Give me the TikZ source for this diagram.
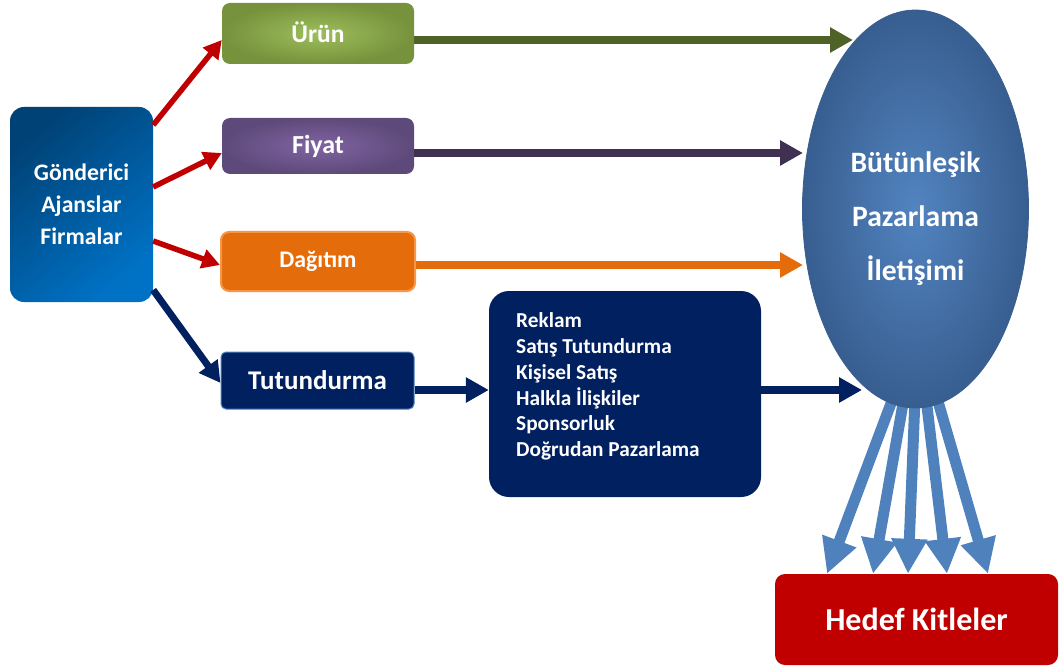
\documentclass[tikz,border=0pt]{standalone}
\usepackage{fontspec}
\setmainfont{Carlito}
\usetikzlibrary{arrows.meta,shapes.geometric}

\definecolor{navy}{HTML}{002060}
\definecolor{redline}{HTML}{C00000}
\definecolor{greenline}{HTML}{4F6228}
\definecolor{purpleline}{HTML}{403152}
\definecolor{orangefill}{HTML}{E46C0A}
\definecolor{orangeedge}{HTML}{F79646}
\definecolor{fanblue}{HTML}{4F81BD}
\definecolor{imcouter}{RGB}{56,94,144}
\definecolor{imcinner}{RGB}{82,132,192}

\tikzset{
  box/.style={rounded corners=8pt, inner sep=0pt, text=white, font=\bfseries},
  redarrow/.style={line width=5.5pt, redline, -{Triangle[length=18pt,width=19pt]}},
  navydiag/.style={line width=7pt, navy, -{Triangle[length=21pt,width=22pt]}},
  flow/.style={line width=8pt, -{Triangle[length=23pt,width=24pt]}},
  fan/.style={line width=11pt, fanblue, -{Triangle[length=35pt,width=34pt]}},
}

\begin{document}
\begin{tikzpicture}[x=1pt,y=-1pt]
\useasboundingbox (0,0) rectangle (1059,668);

% sender block
\node[box, rounded corners=14pt, minimum width=143pt, minimum height=195pt,
      top color={rgb,255:red,0;green,66;blue,118}, bottom color={rgb,255:red,0;green,114;blue,198},
      shading angle=40, align=center, font=\bfseries\fontsize{23.7}{32}\selectfont]
  (gon) at (81.5,204.5) {Gönderici\\Ajanslar\\Firmalar};

% marketing mix
\node[box, minimum width=192pt, minimum height=61pt,
      inner color={rgb,255:red,158;green,190;blue,92}, outer color={rgb,255:red,118;green,146;blue,60},
      font=\bfseries\fontsize{25.5}{28}\selectfont]
  (urun) at (318,33.5) {\raisebox{2pt}{Ürün}};
\node[box, minimum width=192pt, minimum height=56pt,
      inner color={rgb,255:red,128;green,100;blue,162}, outer color={rgb,255:red,94;green,74;blue,122},
      font=\bfseries\fontsize{26}{28}\selectfont]
  (fiyat) at (318,146) {Fiyat};
\node[box, minimum width=194pt, minimum height=59pt, fill=orangefill, draw=orangeedge, line width=2pt,
      font=\bfseries\fontsize{23.8}{26}\selectfont]
  (dag) at (318,261.5) {Dağıtım};
\node[box, rounded corners=5pt, minimum width=193pt, minimum height=57pt, fill=navy,
      draw={rgb,255:red,79;green,129;blue,189}, line width=1pt,
      font=\bfseries\fontsize{27}{28}\selectfont]
  (tut) at (317.5,380.5) {Tutundurma};

% promotion tools
\node[box, rounded corners=20pt, minimum width=272pt, minimum height=206pt, fill=navy]
  (media) at (625,394) {};
\node[text=white, anchor=west, align=left, inner sep=0pt,
      font=\bfseries\fontsize{21.3}{25.8}\selectfont]
  (mediatext) at (516,386.5)
  {Reklam\\Satış Tutundurma\\Kişisel Satış\\Halkla İlişkiler\\Sponsorluk\\Doğrudan Pazarlama};

% target audience
\node[box, rounded corners=10pt, minimum width=283pt, minimum height=91pt, fill=redline,
      font=\bfseries\fontsize{32}{34}\selectfont]
  (hk) at (916.5,619.5) {Hedef Kitleler};

% fan of arrows from IMC to the audience
\coordinate (s1) at (893,398);
\coordinate (s2) at (904,398);
\coordinate (s3) at (915,398);
\coordinate (s4) at (926,398);
\coordinate (s5) at (937,398);
\draw[fan] (s1) -- ([xshift=-89.5pt]hk.north);
\draw[fan] (s2) -- ([xshift=-43.5pt]hk.north);
\draw[fan] (s3) -- ([xshift=-8.5pt]hk.north);
\draw[fan] (s4) -- ([xshift=30.5pt]hk.north);
\draw[fan] (s5) -- ([xshift=71.5pt]hk.north);

% integrated marketing communication
\node[ellipse, inner sep=0pt, minimum width=226pt, minimum height=398pt,
      inner color=imcinner, outer color=imcouter, draw=imcouter, line width=0.8pt]
  (imc) at (915.5,209) {};
\node[text=white, align=center, inner sep=0pt, font=\bfseries\fontsize{29.6}{54}\selectfont]
  (imctext) at (915.5,219) {Bütünleşik\\Pazarlama\\İletişimi};

% arrow ends on the ellipse
\coordinate (eU) at (853,40);
\coordinate (eF) at (803,153);
\coordinate (eD) at (803,265);
\coordinate (eT) at (862,390);

% sender to marketing mix
\draw[redarrow] ([yshift=79.5pt]gon.east) -- ([yshift=-6.5pt]urun.west);
\draw[redarrow] ([yshift=17.5pt]gon.east) -- ([yshift=-7pt]fiyat.west);
\draw[redarrow] ([yshift=-36.5pt]gon.east) -- ([yshift=-3.5pt]dag.west);
\draw[navydiag] ([yshift=-85.5pt]gon.east) -- ([yshift=-2.5pt]tut.west);

% marketing mix to IMC
\draw[flow, greenline] ([yshift=-6.5pt]urun.east) -- (eU);
\draw[flow, purpleline] ([yshift=-7pt]fiyat.east) -- (eF);
\draw[flow, orangefill] ([yshift=-3.5pt]dag.east) -- (eD);
\draw[flow, navy] ([yshift=-9.5pt]tut.east) -- ([yshift=4pt]media.west);
\draw[flow, navy] ([yshift=4pt]media.east) -- (eT);
\end{tikzpicture}
\end{document}
